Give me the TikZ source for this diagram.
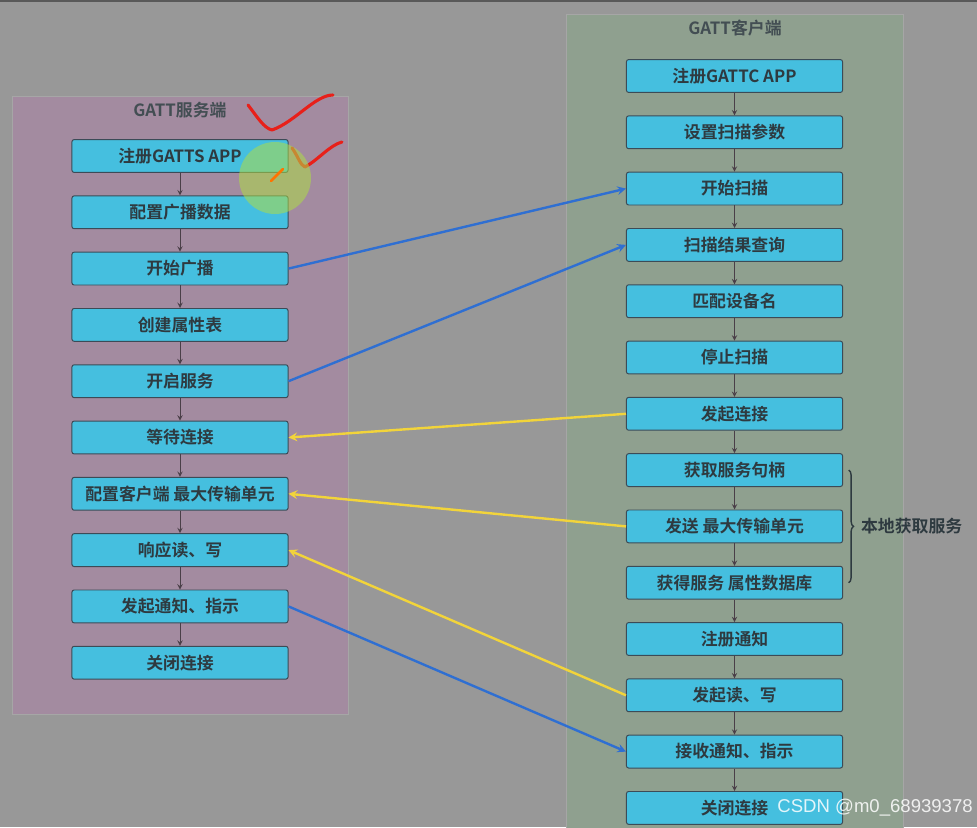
\documentclass[tikz,border=0pt]{standalone}
\usepackage{fontspec}
\setmainfont{Noto Sans CJK SC}[BoldFont={Noto Sans CJK SC Bold}]
\newfontfamily\wmfont{Liberation Sans}
\usetikzlibrary{decorations.pathreplacing}
\definecolor{bggray}{HTML}{989898}
\definecolor{srvpanel}{HTML}{A38BA0}
\definecolor{clipanel}{HTML}{8FA08F}
\definecolor{boxfill}{HTML}{45BFDF}
\definecolor{boxline}{HTML}{3C4B57}
\definecolor{inktext}{HTML}{2E3A40}
\definecolor{flowline}{HTML}{4A3F48}
\definecolor{blueline}{HTML}{2F6FD2}
\definecolor{yellowline}{HTML}{F2D43A}
\definecolor{penred}{HTML}{E8201A}

\begin{document}
\begin{tikzpicture}[x=0.025cm,y=-0.025cm,font=\bfseries\fontsize{12}{14}\selectfont,
  stepbox/.style={draw=boxline,fill=boxfill,rounded corners=1.5pt,minimum width=5.4cm,
    minimum height=0.82cm,text=inktext,line width=0.7pt,inner sep=0pt},
  flow/.style={->,>=stealth,flowline,line width=0.7pt},
  link/.style={->,>=stealth,line width=1.7pt}]
  \useasboundingbox (0,0) rectangle (977,827);
  \fill[bggray] (0,0) rectangle (977,827);
  \fill[black!65] (0,0) rectangle (977,2);
  % the two panels
  \filldraw[fill=srvpanel,draw=black!35] (12,96) rectangle (348,714);
  \filldraw[fill=clipanel,draw=black!35] (566,14) rectangle (903,835);
  \node[text=inktext!90] (srvtitle) at (180,110) {GATT服务端};
  \node[text=inktext!90] (clititle) at (735,28) {GATT客户端};
  % server steps
  \foreach \i/\t in {1/注册GATTS APP,2/配置广播数据,3/开始广播,4/创建属性表,5/开启服务,
      6/等待连接,7/配置客户端 最大传输单元,8/响应读、写,9/发起通知、指示,10/关闭连接}
    \node[stepbox] (s\i) at (180,{156+56.3*(\i-1)}) {\t};
  % client steps
  \foreach \i/\t in {1/注册GATTC APP,2/设置扫描参数,3/开始扫描,4/扫描结果查询,5/匹配设备名,
      6/停止扫描,7/发起连接,8/获取服务句柄,9/发送 最大传输单元,10/获得服务 属性数据库,
      11/注册通知,12/发起读、写,13/接收通知、指示,14/关闭连接}
    \node[stepbox] (c\i) at (734.5,{76+56.3*(\i-1)}) {\t};
  \foreach \i in {1,...,9}{\pgfmathtruncatemacro\j{\i+1}\draw[flow] (s\i) -- (s\j);}
  \foreach \i in {1,...,13}{\pgfmathtruncatemacro\j{\i+1}\draw[flow] (c\i) -- (c\j);}
  % links between the two sides
  \draw[link,blueline] (s3.east) -- (c3.west);
  \draw[link,blueline] (s5.east) -- (c4.west);
  \draw[link,yellowline] (c7.west) -- (s6.east);
  \draw[link,yellowline] (c9.west) -- (s7.east);
  \draw[link,yellowline] (c12.west) -- (s8.east);
  \draw[link,blueline] (s9.east) -- (c13.west);
  \draw[decorate,decoration={brace,amplitude=3.5pt},line width=1pt,inktext]
    ([xshift=4pt]c8.east) -- ([xshift=4pt]c10.east)
    node[midway,right=5pt,text=inktext] (localsvc) {本地获取服务};
  % pen marks
  \draw[penred,line width=2.2pt,line cap=round,line join=round]
    (248,105) .. controls (258,118) and (264,128) .. (272,130) .. controls (295,122) and (315,95) .. (333,95);
  \draw[penred,line width=2.2pt,line cap=round,line join=round]
    (292,148) .. controls (298,156) and (300,165) .. (305,167) .. controls (318,160) and (330,145) .. (342,142);
  \fill[yellow!60!green!80!white,opacity=0.55] (275,178) circle (36);
  \draw[orange!90!red,line width=2pt,line cap=round] (271,181) -- (283,169);
  \node[font=\wmfont\fontsize{13.2}{15}\selectfont,text=white,opacity=0.85,anchor=east,inner sep=0pt] (wm) at (973,808) {CSDN @m0\_68939378};
\end{tikzpicture}
\end{document}
